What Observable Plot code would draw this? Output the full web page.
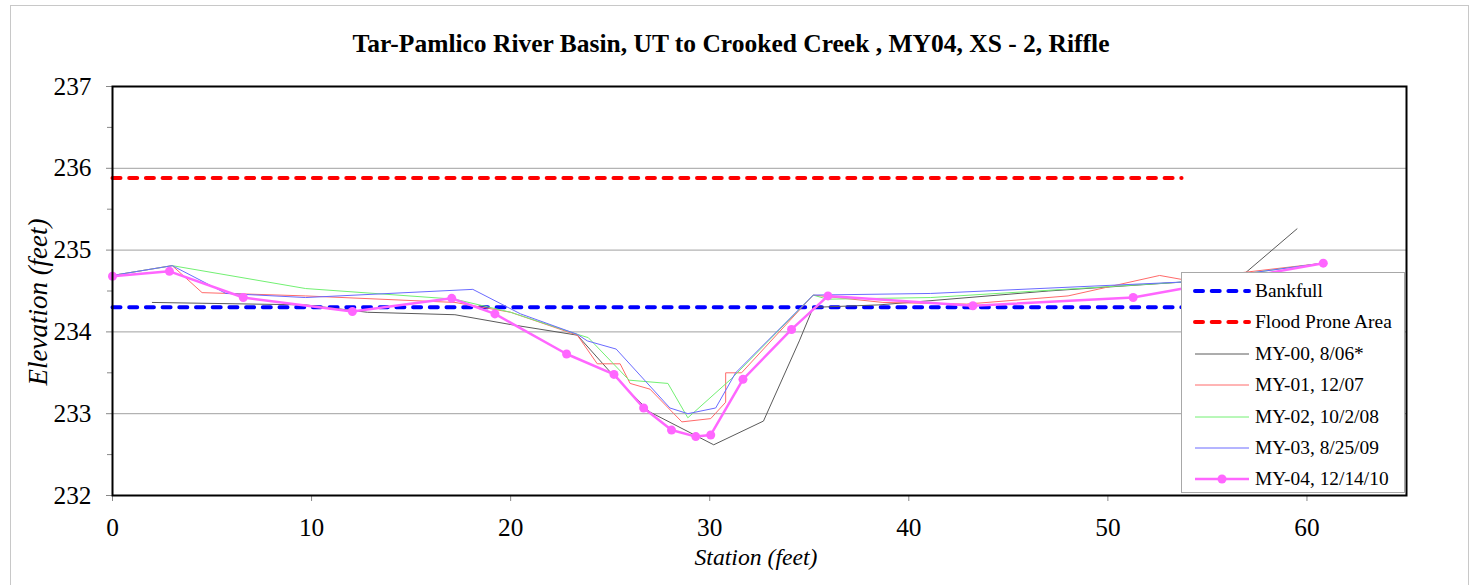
<!DOCTYPE html>
<html>
<head>
<meta charset="utf-8">
<script src="https://cdn.jsdelivr.net/npm/d3@7"></script>
<script src="https://cdn.jsdelivr.net/npm/@observablehq/plot@0.6"></script>
<style>
  html, body { margin: 0; padding: 0; background: #fff; }
  #wrap { position: relative; width: 1478px; height: 585px; overflow: hidden; }
  #outer { position: absolute; left: 10px; top: 5px; width: 1457px; height: 640px; border: 1px solid #c8c8c8; }
  #title { position: absolute; left: 0; top: 29px; width: 1462px; text-align: center; font-weight: bold; color: #000; white-space: nowrap; }
  #xlabel { position: absolute; left: 756px; top: 557px; transform: translate(-50%, -50%); font-style: italic; white-space: nowrap; }
  #ylabel { position: absolute; left: 38px; top: 302px; transform: translate(-50%, -50%) rotate(-90deg); font-style: italic; white-space: nowrap; }
  #legend { position: absolute; left: 1181px; top: 272px; width: 222px; height: 219px; background: #fff; border: 1px solid #a8a8a8; }
  .row { position: absolute; left: 0; height: 24px; width: 222px; }
  .row svg { position: absolute; left: 10px; top: 0; }
  .row span { position: absolute; left: 73px; top: 0; line-height: 24px; white-space: nowrap; }
  #chart svg { position: absolute; left: 0; top: 0; }
</style>
</head>
<body>
<div id="wrap">
  <div id="outer"></div>
  <div id="chart"></div>
  <div id="title"></div>
  <div id="ylabel"></div>
  <div id="xlabel"></div>
  <div id="legend"></div>
</div>
<script>
// ---- Data ----
const titleText = "Tar-Pamlico River Basin, UT to Crooked Creek , MY04, XS - 2, Riffle";
const xLabel = "Station (feet)";
const yLabel = "Elevation (feet)";
const xTicks = [0, 10, 20, 30, 40, 50, 60];
const yTicks = [232, 233, 234, 235, 236, 237];

const bankfullStations = [0, 53.7];
const bankfullElev = 234.3;
const floodStations = [0, 53.7];
const floodElev = 235.88;

const st00 = [2.0, 9.7, 12.8, 17.2, 20.0, 23.35, 25.0, 27.0, 30.2, 32.7, 34.5, 35.2, 38.5, 47.0, 53.8, 56.9, 59.5];
const el00 = [234.36, 234.33, 234.24, 234.21, 234.09, 233.96, 233.51, 233.02, 232.62, 232.91, 233.89, 234.30, 234.33, 234.50, 234.61, 234.72, 235.26];

const st01 = [0, 3.0, 4.5, 9.7, 17.2, 20.0, 23.35, 24.35, 25.5, 26.0, 27.0, 28.6, 30.05, 30.8, 30.8, 31.6, 35.2, 38.7, 42.9, 48.0, 52.6, 53.75, 60.8];
const el01 = [234.69, 234.81, 234.48, 234.44, 234.36, 234.24, 233.96, 233.61, 233.61, 233.37, 233.30, 232.90, 232.94, 233.14, 233.50, 233.50, 234.45, 234.36, 234.34, 234.44, 234.69, 234.64, 234.84];

const st02 = [0, 3.0, 9.7, 17.2, 20.0, 23.35, 23.9, 25.95, 27.9, 28.9, 31.1, 35.2, 35.9, 41.1, 53.8, 60.8];
const el02 = [234.69, 234.81, 234.53, 234.40, 234.24, 233.97, 233.93, 233.41, 233.37, 232.95, 233.43, 234.45, 234.40, 234.42, 234.61, 234.84];

const st03 = [0, 3.0, 5.7, 9.7, 18.1, 20.5, 23.35, 23.85, 25.3, 28.0, 28.9, 30.3, 31.3, 35.2, 41.1, 53.8, 60.8];
const el03 = [234.69, 234.81, 234.47, 234.42, 234.52, 234.22, 233.97, 233.89, 233.79, 233.07, 233.00, 233.07, 233.50, 234.45, 234.47, 234.61, 234.84];

const st04 = [0, 2.86, 6.57, 12.05, 17.04, 19.21, 22.81, 25.19, 26.68, 28.08, 29.30, 30.05, 31.67, 34.11, 35.94, 43.22, 51.27, 60.82];
const el04 = [234.68, 234.74, 234.42, 234.25, 234.41, 234.22, 233.73, 233.48, 233.07, 232.80, 232.72, 232.74, 233.42, 234.03, 234.44, 234.32, 234.42, 234.84];

const seriesNames = ["MY-00, 8/06*", "MY-01, 12/07", "MY-02, 10/2/08", "MY-03, 8/25/09", "MY-04, 12/14/10"];
const seriesColors = ["#5a5a5a", "#ff6a6a", "#72f072", "#6a6aff", "#ff66ff"];
const refNames = ["Bankfull", "Flood Prone Area"];
const refColors = ["#0000ff", "#ff0000"];

// ---- Pick an installed serif font (Times-like), else fall back ----
const ctx = document.createElement("canvas").getContext("2d");
function installed(f) {
  const s = "Tar-Pamlico River Basin 0123456789";
  for (const fb of ["monospace", "cursive"]) {
    ctx.font = `20px ${fb}`; const a = ctx.measureText(s).width;
    ctx.font = `20px "${f}", ${fb}`; const b = ctx.measureText(s).width;
    if (Math.abs(a - b) > 0.5) return true;
  }
  return false;
}
const serifCandidates = ["Liberation Serif", "Tinos", "Times New Roman", "Times", "DejaVu Serif", "Noto Serif", "FreeSerif", "Nimbus Roman", "Nimbus Roman No9 L"];
const found = serifCandidates.find(installed);
const fontFamily = found ? `"${found}", serif` : '"Liberation Sans", Arial, sans-serif';
document.getElementById("wrap").style.fontFamily = fontFamily;

// size a text so that it spans the width it spans in the reference
function fit(text, style, targetWidth, lo, hi) {
  ctx.font = `${style} 20px ${fontFamily}`;
  const w = ctx.measureText(text).width;
  return Math.max(lo, Math.min(hi, 20 * targetWidth / w));
}
const tickSize = fit("237", "", 38, 18, 26);
const legendSize = fit("Flood Prone Area", "", 138, 16, 24);

// ---- Build tables ----
const toRows = (xs, ys) => xs.map((x, i) => ({x, y: ys[i]}));
const bankRows = bankfullStations.map(x => ({x, y: bankfullElev}));
const floodRows = floodStations.map(x => ({x, y: floodElev}));
const thinSeries = [[st00, el00], [st01, el01], [st02, el02], [st03, el03]].map(([a, b]) => toRows(a, b));
const my04 = toRows(st04, el04);

const dash = {strokeWidth: 4, strokeDasharray: "8,8.7", strokeLinecap: "round"};

const chart = Plot.plot({
  width: 1478,
  height: 585,
  marginLeft: 112,
  marginRight: 72,
  marginTop: 86,
  marginBottom: 90,
  x: {domain: [0, 65]},
  y: {domain: [232, 237]},
  style: {fontFamily, fontSize: tickSize + "px", color: "#000", background: "transparent"},
  marks: [
    Plot.gridY(yTicks.slice(1, -1), {stroke: "#a0a0a0", strokeOpacity: 1, strokeWidth: 1}),
    Plot.axisY(yTicks, {tickSize: 6, tickPadding: 15, stroke: "#888", label: null, fontSize: tickSize, tickFormat: d3.format("d")}),
    Plot.axisY(d3.range(232.5, 237, 1), {tickSize: 5, text: null, stroke: "#888", label: null}),
    Plot.axisX(xTicks, {tickSize: 6, tickPadding: 16, stroke: "#888", label: null, fontSize: tickSize, tickFormat: d3.format("d")}),
    Plot.line(bankRows, {x: "x", y: "y", stroke: refColors[0], ...dash}),
    Plot.line(floodRows, {x: "x", y: "y", stroke: refColors[1], ...dash}),
    ...thinSeries.map((rows, i) => Plot.line(rows, {x: "x", y: "y", stroke: seriesColors[i], strokeWidth: 1})),
    Plot.line(my04, {x: "x", y: "y", stroke: seriesColors[4], strokeWidth: 2.5}),
    Plot.dot(my04, {x: "x", y: "y", fill: seriesColors[4], r: 4.5}),
    Plot.frame({stroke: "#000", strokeWidth: 2})
  ]
});
document.getElementById("chart").appendChild(chart);

const titleEl = document.getElementById("title");
titleEl.textContent = titleText;
titleEl.style.fontSize = fit(titleText, "bold", 758, 18, 26).toFixed(1) + "px";

const xl = document.getElementById("xlabel");
xl.textContent = xLabel;
xl.style.fontSize = fit(xLabel, "italic", 123, 18, 26).toFixed(1) + "px";
const yl = document.getElementById("ylabel");
yl.textContent = yLabel;
yl.style.fontSize = fit(yLabel, "italic", 170, 18, 27).toFixed(1) + "px";

// ---- Legend ----
const legend = document.getElementById("legend");
const entries = [
  ...refNames.map((n, i) => ({name: n, color: refColors[i], kind: "dash"})),
  ...seriesNames.map((n, i) => ({name: n, color: seriesColors[i], kind: i === 4 ? "marker" : "thin"}))
];
entries.forEach((e, i) => {
  const row = document.createElement("div");
  row.className = "row";
  row.style.top = (6 + i * 31.4) + "px";
  row.style.fontSize = legendSize.toFixed(1) + "px";
  let sw = "";
  if (e.kind === "dash") sw = `<line x1="3" y1="12" x2="57" y2="12" stroke="${e.color}" stroke-width="4" stroke-dasharray="8,8.7" stroke-linecap="round"/>`;
  else if (e.kind === "thin") sw = `<line x1="3" y1="12" x2="57" y2="12" stroke="${e.color}" stroke-width="1"/>`;
  else sw = `<line x1="3" y1="12" x2="57" y2="12" stroke="${e.color}" stroke-width="2.5"/><circle cx="30" cy="12" r="4.5" fill="${e.color}"/>`;
  row.innerHTML = `<svg width="62" height="24">${sw}</svg><span>${e.name}</span>`;
  legend.appendChild(row);
});
</script>
</body>
</html>
